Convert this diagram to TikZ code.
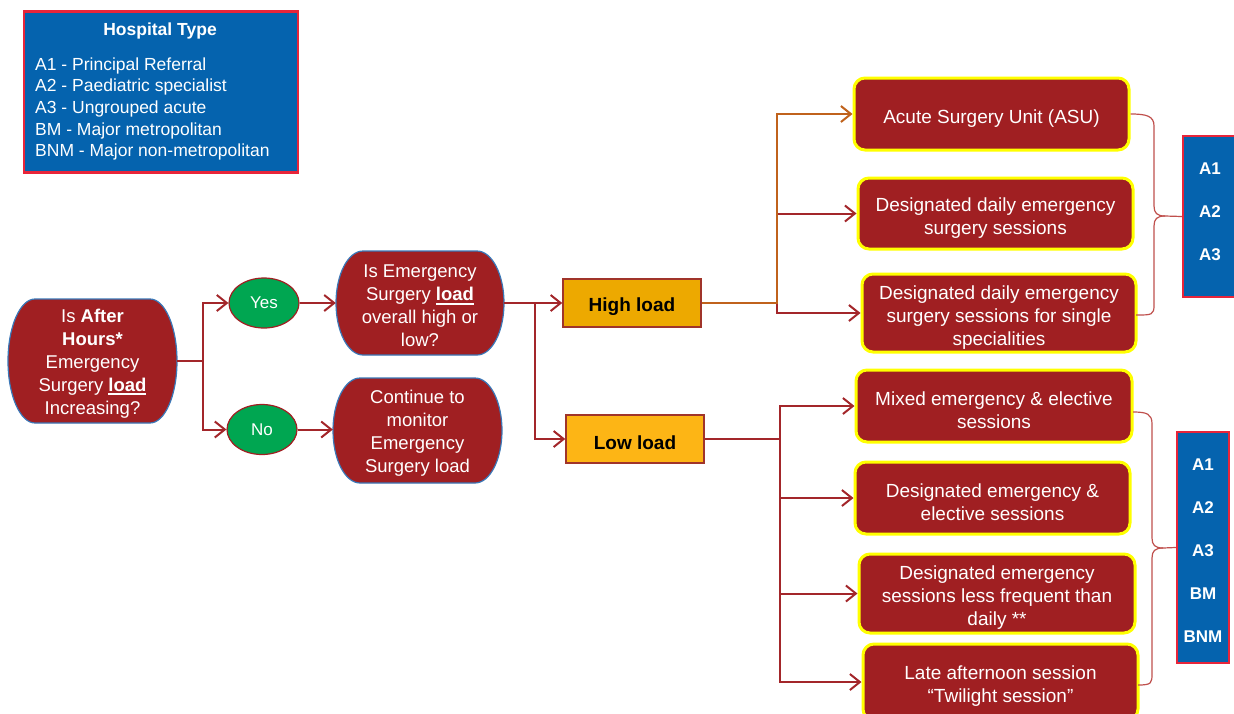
\documentclass[tikz,border=0pt]{standalone}
\usepackage{fontspec}
\setmainfont{Liberation Sans}
\usetikzlibrary{arrows.meta,shapes.geometric}
\definecolor{dred}{HTML}{A01F22}
\definecolor{lnred}{HTML}{A3262A}
\definecolor{lnbrown}{HTML}{C0621C}
\definecolor{capblue}{HTML}{3A78B8}
\definecolor{legblue}{HTML}{0563AE}
\definecolor{legred}{HTML}{E8253A}
\definecolor{okgreen}{HTML}{00A651}
\definecolor{hiyel}{HTML}{EDA900}
\definecolor{loyel}{HTML}{FDB515}
\definecolor{boxedge}{HTML}{A0342A}
\definecolor{bracecol}{HTML}{C0504D}
\definecolor{byellow}{HTML}{FFFF00}
\newsavebox{\myulbox}
\newcommand{\myul}[1]{\sbox{\myulbox}{#1}\rlap{\rule[-4pt]{\wd\myulbox}{2pt}}\usebox{\myulbox}}
\newcommand{\tup}{\rule{0pt}{22pt}}
\newcommand{\cupstrut}{\rule{0pt}{18.5pt}}
% capsule: name, cx, cy, w, h, text
\newcommand{\capsule}[6]{%
  \path[capfill] (#2-#4/2+27, #3-#5/2) -- (#2+#4/2-27, #3-#5/2)
    arc[start angle=-90, end angle=90, x radius=27, y radius=#5/2]
    -- (#2-#4/2+27, #3+#5/2)
    arc[start angle=90, end angle=270, x radius=27, y radius=#5/2] -- cycle;
  \node[captext, minimum width=#4pt, minimum height=#5pt] (#1) at (#2,#3) {\cupstrut#6};
}
\tikzset{
  base/.style={text=white, align=center, inner sep=0pt},
  capfill/.style={fill=dred, draw=capblue, line width=1.2pt},
  captext/.style={base, font=\fontsize{18.5}{23}\selectfont},
  optbox/.style={base, rectangle, rounded corners=11pt, fill=dred, draw=byellow,
    line width=3pt, font=\fontsize{19}{23}\selectfont},
  yesno/.style={ellipse, fill=okgreen, draw=dred, line width=1.2pt,
    minimum width=70pt, minimum height=50pt, inner sep=0pt, text=white,
    font=\fontsize{17}{20}\selectfont},
  loadbox/.style={rectangle, draw=boxedge, line width=1.5pt, minimum width=138pt,
    minimum height=48pt, font=\fontsize{19}{23}\selectfont\bfseries, text=black,
    execute at begin node={\rule{0pt}{21.5pt}}},
  arr/.style={draw=lnred, line width=2pt, -{Straight Barb[length=10pt,width=16pt]}},
  ln/.style={draw=lnred, line width=2pt},
  brace/.style={draw=bracecol, line width=1.2pt},
  abox/.style={fill=legblue, draw=legred, line width=2.5pt, inner sep=0pt},
  atext/.style={text=white, align=center, inner sep=0pt,
    font=\fontsize{17}{43}\selectfont\bfseries},
}
\begin{document}
\begin{tikzpicture}[x=1pt, y=-1pt]
\useasboundingbox[fill=white] (0,0) rectangle (1234,713);

% legend
\node[abox, minimum width=274pt, minimum height=161pt] (legend) at (161,92) {};
\node[text=white, inner sep=0pt, font=\fontsize{17.5}{20}\selectfont\bfseries] (legtitle) at (160,31) {Hospital Type};
\node[text=white, inner sep=0pt, align=left, anchor=west, font=\fontsize{17.5}{21.7}\selectfont] (leglist) at (35,109)
  {A1 - Principal Referral\\A2 - Paediatric specialist\\A3 - Ungrouped acute\\BM - Major metropolitan\\BNM - Major non-metropolitan};

% capsules
\capsule{start}{92.5}{361}{169}{124}{Is \textbf{After}\\\textbf{Hours*}\\Emergency\\Surgery \textbf{\myul{load}}\\Increasing?}
\capsule{q2}{420}{303}{168}{104}{Is Emergency\\Surgery \textbf{\myul{load}}\\overall high or\\low?}
\capsule{cont}{417.5}{430.5}{169}{105}{Continue to\\monitor\\Emergency\\Surgery load}

% yes / no
\node[yesno] (yes) at (264,303) {Yes};
\node[yesno] (no) at (262,429.5) {No};

% load boxes
\node[loadbox, fill=hiyel] (high) at (632,303) {High load};
\node[loadbox, fill=loyel] (low) at (635,439) {Low load};

% option boxes
\node[optbox, minimum width=275pt, minimum height=72pt] (asu) at (991.5,114) {\tup Acute Surgery Unit (ASU)};
\node[optbox, minimum width=275pt, minimum height=71pt] (daily) at (995.5,213.5) {\tup Designated daily emergency\\surgery sessions};
\node[optbox, minimum width=274pt, minimum height=78pt] (single) at (999,313) {\tup Designated daily emergency\\surgery sessions for single\\specialities};
\node[optbox, minimum width=276pt, minimum height=72pt] (mixed) at (994,406) {\tup Mixed emergency \& elective\\sessions};
\node[optbox, minimum width=275pt, minimum height=72pt] (desee) at (992.5,498) {\tup Designated emergency \&\\elective sessions};
\node[optbox, minimum width=276pt, minimum height=79pt] (less) at (997,593.5) {\tup Designated emergency\\sessions less frequent than\\daily **};
\node[optbox, minimum width=275pt, minimum height=76pt] (late) at (1000.5,682) {\tup Late afternoon session\\“Twilight session”};

% hospital type boxes
\node[abox, minimum width=54pt, minimum height=161pt] (abox1) at (1210,216.5) {};
\node[atext] (abox1t) at (1210,212) {A1\\A2\\A3};
\node[abox, minimum width=52pt, minimum height=231pt] (abox2) at (1203,547.5) {};
\node[atext] (abox2t) at (1203,550.5) {A1\\A2\\A3\\BM\\BNM};

% connectors
\coordinate (sj) at (203,361);
\draw[ln] (start.east) -- (sj);
\draw[arr] (sj) |- (yes.west);
\draw[arr] (sj) |- (no.west);
\draw[arr] (yes.east) -- (yes.east -| q2.west);
\draw[arr] (no.east) -- (no.east -| cont.west);

\coordinate (qj) at (535,303);
\draw[arr] (q2.east) -- (high.west);
\draw[arr] (qj) |- (low.west);

\coordinate (hj) at (777,303);
\draw[arr] (hj) |- (single.west);
\draw[arr] (hj |- daily.west) -- (daily.west);
\draw[arr, draw=lnbrown] (high.east) -- (hj) |- (asu.west);

\coordinate (lj) at (780,439);
\draw[ln] (low.east) -- (lj);
\draw[arr] (lj) |- (mixed.west);
\draw[arr] (lj) |- (late.west);
\draw[arr] (lj |- desee.west) -- (desee.west);
\draw[arr] (lj |- less.west) -- (less.west);

% braces
\draw[brace] (asu.east) .. controls +(16,0) and +(0,-10) .. (1154,126) -- (1154,206)
  .. controls +(0,7) and +(-8,0) .. (1165,216) -- (abox1.west);
\draw[brace] (1165,216) .. controls +(-8,0) and +(0,-7) .. (1154,226) -- (1154,305)
  .. controls +(0,10) and +(16,0) .. (1136,315);
\draw[brace] (1133,412) .. controls +(14,0) and +(0,-10) .. (1152,424) -- (1152,538)
  .. controls +(0,7) and +(-8,0) .. (1163,548) -- (abox2.west);
\draw[brace] (1163,548) .. controls +(-8,0) and +(0,-7) .. (1152,558) -- (1152,673)
  .. controls +(0,10) and +(14,0) .. (1138,685);
\end{tikzpicture}
\end{document}
